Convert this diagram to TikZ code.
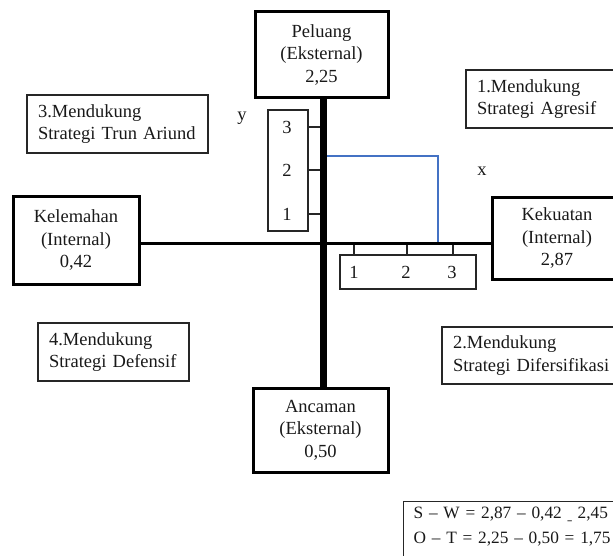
\documentclass[tikz,border=0pt]{standalone}
\usepackage{fontspec}
\setmainfont{Liberation Serif}
\begin{document}
\begin{tikzpicture}[x=1pt,y=-1pt,
  every node/.style={font=\fontsize{18.5}{22.5}\selectfont, inner sep=0pt, text=black!90},
  thickbox/.style={draw=black, line width=3pt, align=center},
  thinbox/.style={draw=black!85, line width=1.4pt, align=left, inner xsep=11pt},
  scalebox/.style={draw=black!85, line width=1.3pt},
  tickline/.style={draw=black!85, line width=1.3pt},
  vaxis/.style={draw=black, line width=7pt},
  haxis/.style={draw=black, line width=3pt},
  resline/.style={draw={rgb,255:red,68;green,114;blue,196}, line width=1.3pt},
]
\useasboundingbox (0,0) rectangle (613,556);
\clip (0,0) rectangle (613,556);

% main boxes
\node[thickbox, minimum width=133pt, minimum height=86pt] (pel) at (321.5,55) {Peluang\\(Eksternal)\\2,25};
\node[thickbox, minimum width=126pt, minimum height=87pt] (kel) at (76,240.5) {Kelemahan\\(Internal)\\0,42};
\node[thickbox, minimum width=130pt, minimum height=81pt] (kek) at (557,238.5) {Kekuatan\\(Internal)\\2,87};
\node[thickbox, minimum width=135pt, minimum height=84pt] (anc) at (320.5,430) {Ancaman\\(Eksternal)\\0,50};

% strategy boxes
\node[thinbox, text width=159pt, minimum width=181pt, minimum height=58pt] (s3) at (117.5,124) {3.Mendukung\\Strategi Trun Ariund};
\node[thinbox, text width=129pt, minimum width=151pt, minimum height=58pt] (s4) at (113.5,352) {4.Mendukung\\Strategi Defensif};
\node[thinbox, text width=136pt, minimum width=158pt, minimum height=58pt] (s1) at (545,99) {1.Mendukung\\Strategi Agresif};
\node[thinbox, text width=168pt, minimum width=190pt, minimum height=57pt] (s2) at (537,355.5) {2.Mendukung\\Strategi Difersifikasi};

% origin
\coordinate (o) at (323.5,243);

% scale boxes
\node[scalebox, minimum width=40pt, minimum height=121pt] (ybox) at (288,170.5) {};
\node (y3) at (287,127) {3};
\node (y2) at (287,170) {2};
\node (y1) at (287,214) {1};
\node[scalebox, minimum width=136pt, minimum height=34pt] (xbox) at (408,272) {};
\node (x1) at (354,272) {1};
\node (x2) at (406,272) {2};
\node (x3) at (452,272) {3};

\draw[tickline] (ybox.east |- y3) -- (o |- y3);
\draw[tickline] (ybox.east |- y2) -- (o |- y2);
\draw[tickline] (ybox.east |- y1) -- (o |- y1);
\coordinate (t1) at (354,0);
\coordinate (t2) at (407,0);
\coordinate (t3) at (453,0);
\draw[tickline] (t1 |- o) -- (t1 |- xbox.north);
\draw[tickline] (t2 |- o) -- (t2 |- xbox.north);
\draw[tickline] (t3 |- o) -- (t3 |- xbox.north);

% axis labels
\node (ylab) at (242,118) {y};
\node (xlab) at (482,171) {x};

% result line
\coordinate (p) at (438,156);
\draw[resline] (o |- p) -- (p) -- (p |- o);

% axes
\draw[haxis] (kel.east |- o) -- (kek.west |- o);
\draw[vaxis] (pel.south -| o) -- (anc.north -| o);

% formula box
\node[thinbox, anchor=north west, inner xsep=10pt, inner ysep=5.5pt, text width=220pt, text depth=60pt,
      font=\fontsize{17.3}{25}\selectfont] (form) at (403,501)
  {S -- W = 2,87 -- 0,42 \raisebox{-1pt}{\scalebox{0.5}[1]{\_}} 2,45\\O -- T = 2,25 -- 0,50 = 1,75};
\end{tikzpicture}
\end{document}
